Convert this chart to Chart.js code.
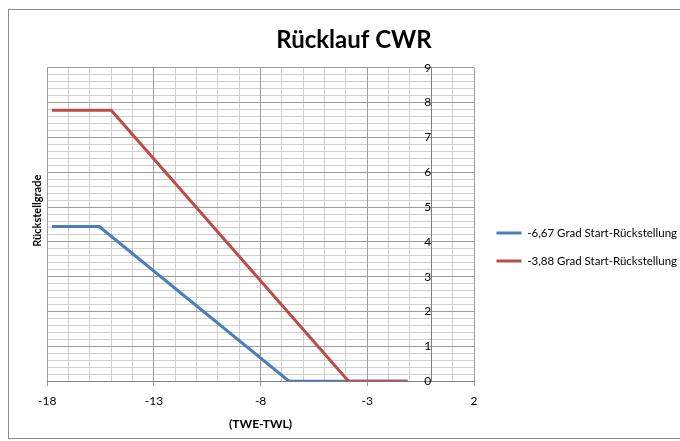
<!DOCTYPE html>
<html>
<head>
<meta charset="utf-8">
<script src="https://cdn.jsdelivr.net/npm/chart.js@4/dist/chart.umd.min.js"></script>
<style>
  html, body { margin: 0; padding: 0; background: #fff; }
  #frame { position: absolute; left: 8px; top: 9px; width: 700px; height: 428px; border: 1px solid #8c8c8c; }
  #wrap { position: absolute; left: 0; top: 0; width: 680px; height: 441px; }
</style>
</head>
<body>
<div id="frame"></div>
<div id="wrap"><canvas id="cwr"></canvas></div>
<script>
// values
const seriesNames = ['-6,67 Grad Start-Rückstellung', '-3,88 Grad Start-Rückstellung'];
const blueX = [-17.78, -15.56, -6.67, -1.11];
const blueY = [4.44, 4.44, 0, 0];
const redX  = [-17.78, -15, -3.88, -1.11];
const redY  = [7.78, 7.78, 0, 0];
const xMin = -18, xMax = 2, xStep = 5;
const yMin = 0, yMax = 9, yStep = 1;

const FONT = 'Lato, "Open Sans", sans-serif';
const majorGrid = '#9c9c9c';
const minorGrid = '#cfcfcf';
const axisCol   = '#808080';
const EN = '\u2002';

function pts(xs, ys) {
  return xs.map((x, i) => ({ x: x, y: ys[i] }));
}

Chart.defaults.font.family = FONT;
Chart.defaults.color = '#000';

new Chart(document.getElementById('cwr'), {
  type: 'line',
  data: {
    datasets: [
      { label: seriesNames[0], data: pts(blueX, blueY), borderColor: '#4a7ebb', backgroundColor: '#4a7ebb',
        borderWidth: 3, pointRadius: 0, tension: 0, order: 1 },
      { label: seriesNames[1], data: pts(redX, redY), borderColor: '#be4b48', backgroundColor: '#be4b48',
        borderWidth: 3, pointRadius: 0, tension: 0, order: 0 }
    ]
  },
  options: {
    responsive: true,
    maintainAspectRatio: false,
    animation: false,
    layout: { padding: { top: 10, left: 28, right: 0, bottom: 6 } },
    plugins: {
      title: {
        display: true,
        text: 'Rücklauf CWR',
        font: { size: 24, weight: 'bold', family: FONT },
        color: '#000',
        padding: { top: 16, bottom: 13 }
      },
      legend: {
        position: 'right',
        maxWidth: 200,
        // empty title only pushes the two items down to where the reference has them
        title: { display: true, text: '', font: { size: 12 }, padding: { top: 34.6, bottom: 0 } },
        labels: {
          usePointStyle: true,
          pointStyle: 'line',
          pointStyleWidth: 25,
          padding: 16.5,
          font: { size: 11.5, family: FONT },
          color: '#000',
          sort: (a, b) => a.datasetIndex - b.datasetIndex
        }
      },
      tooltip: { enabled: false }
    },
    scales: {
      x: {
        type: 'linear', position: 'bottom', weight: 0,
        min: xMin, max: xMax,
        ticks: { stepSize: xStep, padding: 8, font: { size: 12 }, color: '#000', maxTicksLimit: 100 },
        grid: { color: majorGrid, tickLength: 5, z: -1 },
        border: { color: axisCol },
        title: { display: true, text: '(TWE-TWL)', font: { size: 12, weight: 'bold' }, color: '#000', padding: { top: 0, bottom: 4 } }
      },
      xMinor: {
        type: 'linear', axis: 'x', position: 'bottom', weight: 1,
        min: xMin, max: xMax,
        ticks: { display: false, stepSize: 1, maxTicksLimit: 100 },
        grid: { color: minorGrid, drawTicks: false, z: -2 },
        border: { display: false }
      },
      // vertical axis crossing at x = 0, with its numbers
      y: {
        type: 'linear', position: { x: 0 },
        min: yMin, max: yMax,
        ticks: { stepSize: yStep, font: { size: 12 }, color: '#000', maxTicksLimit: 100 },
        grid: { color: majorGrid, drawTicks: false, z: -1 },
        border: { color: axisCol }
      },
      yMinor: {
        type: 'linear', axis: 'y', position: 'left',
        min: yMin, max: yMax,
        ticks: { display: false, stepSize: 0.2, maxTicksLimit: 100 },
        grid: { color: minorGrid, drawTicks: false, z: -2 },
        border: { display: false },
        title: { display: true, text: EN + EN + EN + EN + EN + 'Rückstellgrade', font: { size: 11, weight: 'bold' }, color: '#000', padding: { top: 3, bottom: 3 } }
      },
      yGap: {
        type: 'linear', axis: 'y', position: 'right',
        min: yMin, max: yMax,
        ticks: { display: false },
        grid: { drawOnChartArea: false, drawTicks: true, tickLength: 6, color: 'rgba(0,0,0,0)' },
        border: { display: false }
      }
    }
  }
});
</script>
</body>
</html>
